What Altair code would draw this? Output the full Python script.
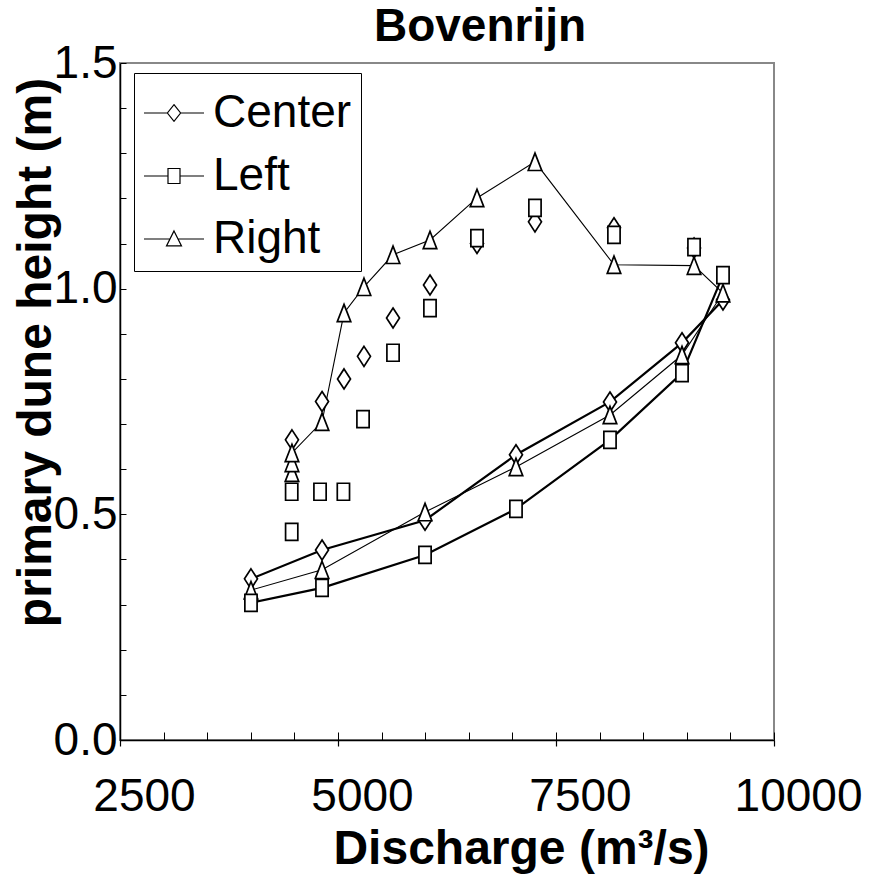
import altair as alt
import pandas as pd

F = "Liberation Sans, Arial, sans-serif"
SERIES = ["Center", "Left", "Right"]

# ---- data (discharge m3/s, dune height m) ----
center_rise_q = [4472, 4817, 5069, 5298, 5631, 6055, 6594, 7259, 8165, 9083]
center_rise_h = [0.665, 0.75, 0.80, 0.85, 0.935, 1.008, 1.10, 1.148, 1.135, 1.09]
center_fall_q = [9415, 8945, 8119, 7041, 5998, 4817, 4002]
center_fall_h = [0.975, 0.88, 0.749, 0.632, 0.487, 0.421, 0.357]

left_rise_q = [4469, 4469, 4794, 5062, 5287, 5631, 6055, 6594, 7259, 8165, 9083]
left_rise_h = [0.461, 0.55, 0.55, 0.55, 0.711, 0.858, 0.957, 1.112, 1.179, 1.119, 1.092]
left_fall_q = [9415, 8945, 8119, 7041, 5998, 4817, 4002]
left_fall_h = [1.03, 0.813, 0.665, 0.512, 0.41, 0.337, 0.304]

right_rise_q = [4472, 4472, 4472, 4817, 5069, 5298, 5631, 6055, 6594, 7259, 8165, 9083]
right_rise_h = [0.592, 0.614, 0.636, 0.705, 0.946, 1.004, 1.075, 1.108, 1.201, 1.281, 1.053, 1.051]
right_fall_q = [9415, 8945, 8119, 7041, 5998, 4817, 4002]
right_fall_h = [0.99, 0.853, 0.72, 0.605, 0.505, 0.377, 0.332]

x_ticks = [2500, 5000, 7500, 10000]
x_minor = list(range(2500, 10001, 500))
y_ticks = [0.0, 0.5, 1.0, 1.5]
y_minor = [i / 10 for i in range(0, 16)]

# ---- tables ----
def pts(name, qs, hs):
    return [{"series": name, "q": q, "h": h} for q, h in zip(qs, hs)]

points = pd.DataFrame(
    pts("Center", center_rise_q + center_fall_q, center_rise_h + center_fall_h)
    + pts("Left", left_rise_q + left_fall_q, left_rise_h + left_fall_h)
    + pts("Right", right_rise_q + right_fall_q, right_rise_h + right_fall_h)
)

def line_rows(name, qs, hs):
    return [{"series": name, "q": q, "h": h, "order": i} for i, (q, h) in enumerate(zip(qs, hs))]

thick_lines = pd.DataFrame(
    line_rows("Center", center_fall_q, center_fall_h) + line_rows("Left", left_fall_q, left_fall_h)
)
thin_lines = pd.DataFrame(
    line_rows("Right", right_rise_q + right_fall_q, right_rise_h + right_fall_h)
)

xscale = alt.Scale(domain=[2500, 10000], nice=False, zero=False)
yscale = alt.Scale(domain=[0, 1.5], nice=False, zero=True)

# marker shapes (slightly tall, as in the picture)
DIAMOND = "M0,-1L0.65,0L0,1L-0.65,0Z"
SQUARE = "M-0.72,-1L0.72,-1L0.72,1L-0.72,1Z"
TRIANGLE = "M0,-1L0.78,1L-0.78,1Z"

# legend symbols: line with marker
LEG_PATHS = [
    "M-1,0L-0.22,0M0.22,0L1,0M0,-0.28L0.22,0L0,0.28L-0.22,0Z",
    "M-1,0L-0.2,0M0.2,0L1,0M-0.2,-0.25L0.2,-0.25L0.2,0.25L-0.2,0.25Z",
    "M-1,0L-0.135,0M0.135,0L1,0M0,-0.27L0.25,0.23L-0.25,0.23Z",
]

main_x_axis = alt.Axis(
    orient="bottom", values=x_ticks, format="d", title="Discharge (m³/s)",
    labelFont=F, labelFontSize=46, labelColor="black", labelOffset=24,
    labelPadding=28, tickSize=6, tickColor="black", tickWidth=1.2,
    domainColor="black", domainWidth=1.5, labelFlush=False, labelOverlap=False,
    titleFont=F, titleFontSize=48, titleFontWeight="bold", titleColor="black",
    titleX=401, titleY=123, titleAlign="center", titleBaseline="alphabetic",
)
main_y_axis = alt.Axis(
    orient="left", values=y_ticks, format=".1f", title="primary dune height (m)",
    labelFont=F, labelFontSize=46, labelColor="black", labelPadding=3,
    ticks=False, domainColor="black", domainWidth=1.5, labelFlush=False, labelOverlap=False,
    titleFont=F, titleFontSize=48, titleFontWeight="bold", titleColor="black",
    titleX=-84, titleY=289, titleAngle=270, titleAlign="center", titleBaseline="middle",
)
minor_x_axis = alt.Axis(
    orient="bottom", values=x_minor, labels=False, domain=False, title=None,
    offset=-8, tickSize=8, tickColor="black", tickWidth=1,
)
minor_y_axis = alt.Axis(
    orient="left", values=y_minor, labels=False, domain=False, title=None,
    offset=-6, tickSize=6, tickColor="black", tickWidth=1,
)

thick = alt.Chart(thick_lines).mark_line(color="black", strokeWidth=2.2).encode(
    x=alt.X("q:Q", scale=xscale, axis=main_x_axis),
    y=alt.Y("h:Q", scale=yscale, axis=main_y_axis),
    detail="series:N",
    order="order:Q",
)
thin = alt.Chart(thin_lines).mark_line(color="black", strokeWidth=1.1).encode(
    x=alt.X("q:Q", scale=xscale, axis=None),
    y=alt.Y("h:Q", scale=yscale, axis=None),
    detail="series:N",
    order="order:Q",
)

def marker_layer(name, path, size, x_axis=None, y_axis=None):
    return alt.Chart(points).transform_filter(
        alt.datum.series == name
    ).mark_point(
        shape=path, size=size, filled=True, fill="white", stroke="black",
        strokeWidth=1.7, opacity=1,
    ).encode(
        x=alt.X("q:Q", scale=xscale, axis=x_axis),
        y=alt.Y("h:Q", scale=yscale, axis=y_axis),
    )

center_pts = marker_layer("Center", DIAMOND, 400, minor_x_axis, minor_y_axis)
right_pts = marker_layer("Right", TRIANGLE, 300)
left_pts = marker_layer("Left", SQUARE, 289)

legend_layer = alt.Chart(points).transform_filter("false").mark_point(
    filled=False, color="black", strokeWidth=1.2, opacity=1
).encode(
    x=alt.X("q:Q", scale=xscale, axis=None),
    y=alt.Y("h:Q", scale=yscale, axis=None),
    shape=alt.Shape(
        "series:N",
        scale=alt.Scale(domain=SERIES, range=LEG_PATHS),
        legend=alt.Legend(
            orient="none", legendX=14, legendY=10, title=None,
            labelFont=F, labelFontSize=46, labelColor="black", labelOffset=8,
            labelLimit=0, symbolSize=3600, symbolStrokeWidth=1.2,
            symbolStrokeColor="black", symbolOpacity=1,
            strokeColor="black", fillColor="white", padding=9, rowPadding=9,
        ),
    ),
)

chart = alt.layer(
    thick, thin, center_pts, right_pts, left_pts, legend_layer
).resolve_axis(x="independent", y="independent").properties(
    width=654,
    height=677,
    autosize=alt.AutoSizeParams(type="none"),
    padding={"left": 120, "top": 63, "right": 97, "bottom": 135},
    background="white",
    title=alt.TitleParams(
        "Bovenrijn", font=F, fontSize=46, fontWeight="bold", color="black",
        anchor="middle", frame="group", dx=33, offset=-47, baseline="alphabetic",
    ),
).configure_view(
    stroke="#888888", strokeWidth=2
).configure_axis(grid=False)

chart.save("out.html", embed_options={"renderer": "svg", "actions": False})
